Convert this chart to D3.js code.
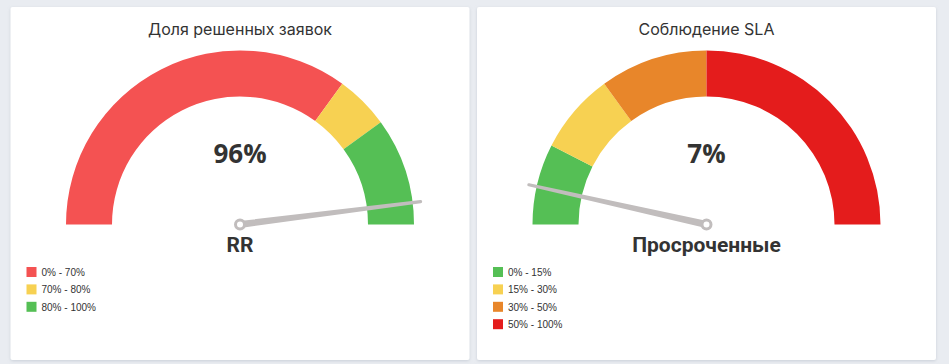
<!DOCTYPE html>
<html>
<head>
<meta charset="utf-8">
<script src="https://cdn.jsdelivr.net/npm/d3@7"></script>
<style>
  html, body { margin: 0; padding: 0; background: #e9ecf1; }
  svg { display: block; }
</style>
</head>
<body>
<svg id="chart" width="949" height="364"></svg>
<script>
// chart data
var titles = ['Доля решенных заявок', 'Соблюдение SLA'];
var values = [96, 7];
var gaugeLabels = ['RR', 'Просроченные'];
var bands1 = [0, 70, 80, 100];
var bands2 = [0, 15, 30, 50, 100];
var bandColors1 = ['#f45252', '#f7d152', '#55bf55'];
var bandColors2 = ['#55bf55', '#f7d152', '#e8862a', '#e41c1c'];
var legendLabels1 = ['0% - 70%', '70% - 80%', '80% - 100%'];
var legendLabels2 = ['0% - 15%', '15% - 30%', '30% - 50%', '50% - 100%'];

var gauges = [
  { title: titles[0], value: values[0], label: gaugeLabels[0], bands: bands1, colors: bandColors1, legend: legendLabels1 },
  { title: titles[1], value: values[1], label: gaugeLabels[1], bands: bands2, colors: bandColors2, legend: legendLabels2 }
];

var svg = d3.select('#chart');

// soft shadow for panels
var defs = svg.append('defs');
var filter = defs.append('filter').attr('id', 'shadow')
  .attr('x', '-5%').attr('y', '-5%').attr('width', '110%').attr('height', '110%');
filter.append('feDropShadow')
  .attr('dx', 0).attr('dy', 1).attr('stdDeviation', 1.5)
  .attr('flood-color', '#aab3c0').attr('flood-opacity', 0.5);

var panelW = 459, panelH = 353;
var panelX = [10.5, 477];
var outerR = 174, innerR = 128, needleLen = 182;

var angle = d3.scaleLinear().domain([0, 100]).range([-Math.PI / 2, Math.PI / 2]);
var needleRot = d3.scaleLinear().domain([0, 100]).range([-180, 0]);

var arc = d3.arc()
  .innerRadius(innerR)
  .outerRadius(outerR)
  .startAngle(function(d) { return angle(d[0]); })
  .endAngle(function(d) { return angle(d[1]); });

gauges.forEach(function(g, i) {
  var panel = svg.append('g').attr('transform', 'translate(' + panelX[i] + ',7)');

  panel.append('rect')
    .attr('width', panelW).attr('height', panelH)
    .attr('rx', 2)
    .attr('fill', '#fff')
    .attr('filter', 'url(#shadow)');

  var cx = panelW / 2;

  panel.append('text')
    .attr('x', cx).attr('y', 28)
    .attr('text-anchor', 'middle')
    .style('font-family', 'Inter, sans-serif')
    .style('font-size', '16px')
    .style('fill', '#333')
    .text(g.title);

  var gauge = panel.append('g').attr('transform', 'translate(' + cx + ',217.5)');

  var segs = d3.pairs(g.bands);
  gauge.selectAll('path.band')
    .data(segs)
    .enter().append('path')
    .attr('class', 'band')
    .attr('d', arc)
    .attr('fill', function(d, j) { return g.colors[j]; });

  gauge.append('text')
    .attr('x', 0).attr('y', -62)
    .attr('text-anchor', 'middle')
    .style('font-family', '"Open Sans", sans-serif')
    .style('font-weight', 700)
    .style('font-size', '26px')
    .style('fill', '#333')
    .text(g.value + '%');

  // needle
  var needle = gauge.append('g').attr('transform', 'rotate(' + needleRot(g.value) + ')');
  needle.append('path')
    .attr('d', 'M0,-3.5 L' + needleLen + ',-1.6 A1.6,1.6 0 0 1 ' + needleLen + ',1.6 L0,3.5 Z')
    .attr('fill', '#c1bdbd');
  gauge.append('circle')
    .attr('r', 4.5)
    .attr('fill', '#fff')
    .attr('stroke', '#c1bdbd')
    .attr('stroke-width', 3);

  gauge.append('text')
    .attr('x', 0).attr('y', 27)
    .attr('text-anchor', 'middle')
    .style('font-family', 'Roboto, sans-serif')
    .style('font-weight', 700)
    .style('font-size', '21px')
    .style('fill', '#333')
    .text(g.label);

  // legend
  var legend = panel.append('g').attr('transform', 'translate(16,260)');
  var rows = legend.selectAll('g.item')
    .data(g.legend)
    .enter().append('g')
    .attr('class', 'item')
    .attr('transform', function(d, j) { return 'translate(0,' + (j * 17.4) + ')'; });
  rows.append('rect')
    .attr('width', 10).attr('height', 10)
    .attr('fill', function(d, j) { return g.colors[j]; });
  rows.append('text')
    .attr('x', 15).attr('y', 9)
    .style('font-family', '"Liberation Sans", Arial, sans-serif')
    .style('font-size', '10px')
    .style('fill', '#333')
    .text(function(d) { return d; });
});
</script>
</body>
</html>
